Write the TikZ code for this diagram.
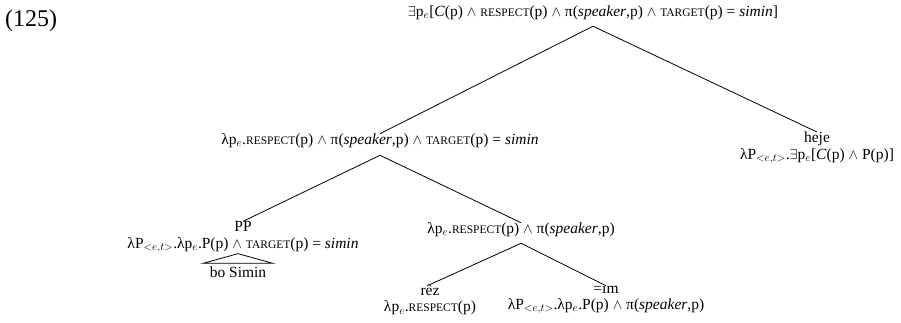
\documentclass[tikz,border=0pt]{standalone}
\usepackage{fontspec}
\setmainfont{Liberation Serif}
\newcommand\smc[1]{{\fontsize{11.5}{13}\selectfont #1}}
\newcommand\lam{λ}
\newcommand\pe{p$_{e}$}
\newcommand\Pet{P$_{<e,t>}$}
\newcommand\conj{ $\wedge$ }
\begin{document}
\begin{tikzpicture}[x=1pt,y=-1pt,
  lbl/.style={inner sep=0pt,font=\fontsize{15.5}{16.5}\selectfont,align=center},
  branch/.style={line width=0.8pt,black}]
\useasboundingbox (0,0) rectangle (901,323);
\node[font=\fontsize{24}{27}\selectfont,anchor=west,inner sep=0pt] (ex) at (5,21) {(125)};
% tree labels
\node[lbl] (root) at (593,13) {$\exists$\pe[\textit{C}(p)\conj\smc{RESPECT}(p)\conj π(\textit{speaker},p)\conj\smc{TARGET}(p) = \textit{simin}]};
\node[lbl] (lc) at (380,141) {\lam\pe.\smc{RESPECT}(p)\conj π(\textit{speaker},p)\conj\smc{TARGET}(p) = \textit{simin}};
\node[lbl] (rc) at (817,148) {heje\\\lam\Pet.$\exists$\pe[\textit{C}(p)\conj P(p)]};
\node[lbl] (pp) at (243,237) {PP\\\lam\Pet.\lam\pe.P(p)\conj\smc{TARGET}(p) = \textit{simin}};
\node[lbl] (bo) at (238,272) {bo Simin};
\node[lbl] (mid) at (521,230) {\lam\pe.\smc{RESPECT}(p)\conj π(\textit{speaker},p)};
\node[lbl] (rez) at (430,300) {rêz\\\lam\pe.\smc{RESPECT}(p)};
\node[lbl] (im) at (606,300) {=ım\\\lam\Pet.\lam\pe.P(p)\conj π(\textit{speaker},p)};
% branch points just under each mother label
\coordinate (rootb) at ([yshift=-6pt]root.south);
\coordinate (lcb) at ([yshift=-7pt]lc.south);
\coordinate (midb) at ([yshift=-6pt]mid.south);
\coordinate (ppa) at ([xshift=-5pt,yshift=-1pt]pp.south);
\draw[branch] (rootb) -- (lc.north);
\draw[branch] (rootb) -- (rc.north);
\draw[branch] (lcb) -- (pp.north);
\draw[branch] (lcb) -- (mid.north);
\draw[branch] (midb) -- (rez.north);
\draw[branch] (midb) -- (im.north);
% roof over the unanalysed PP
\draw[branch] (ppa) -- ([xshift=-35pt,yshift=3pt]bo.north) -- ([xshift=35pt,yshift=3pt]bo.north) -- cycle;
\end{tikzpicture}
\end{document}
